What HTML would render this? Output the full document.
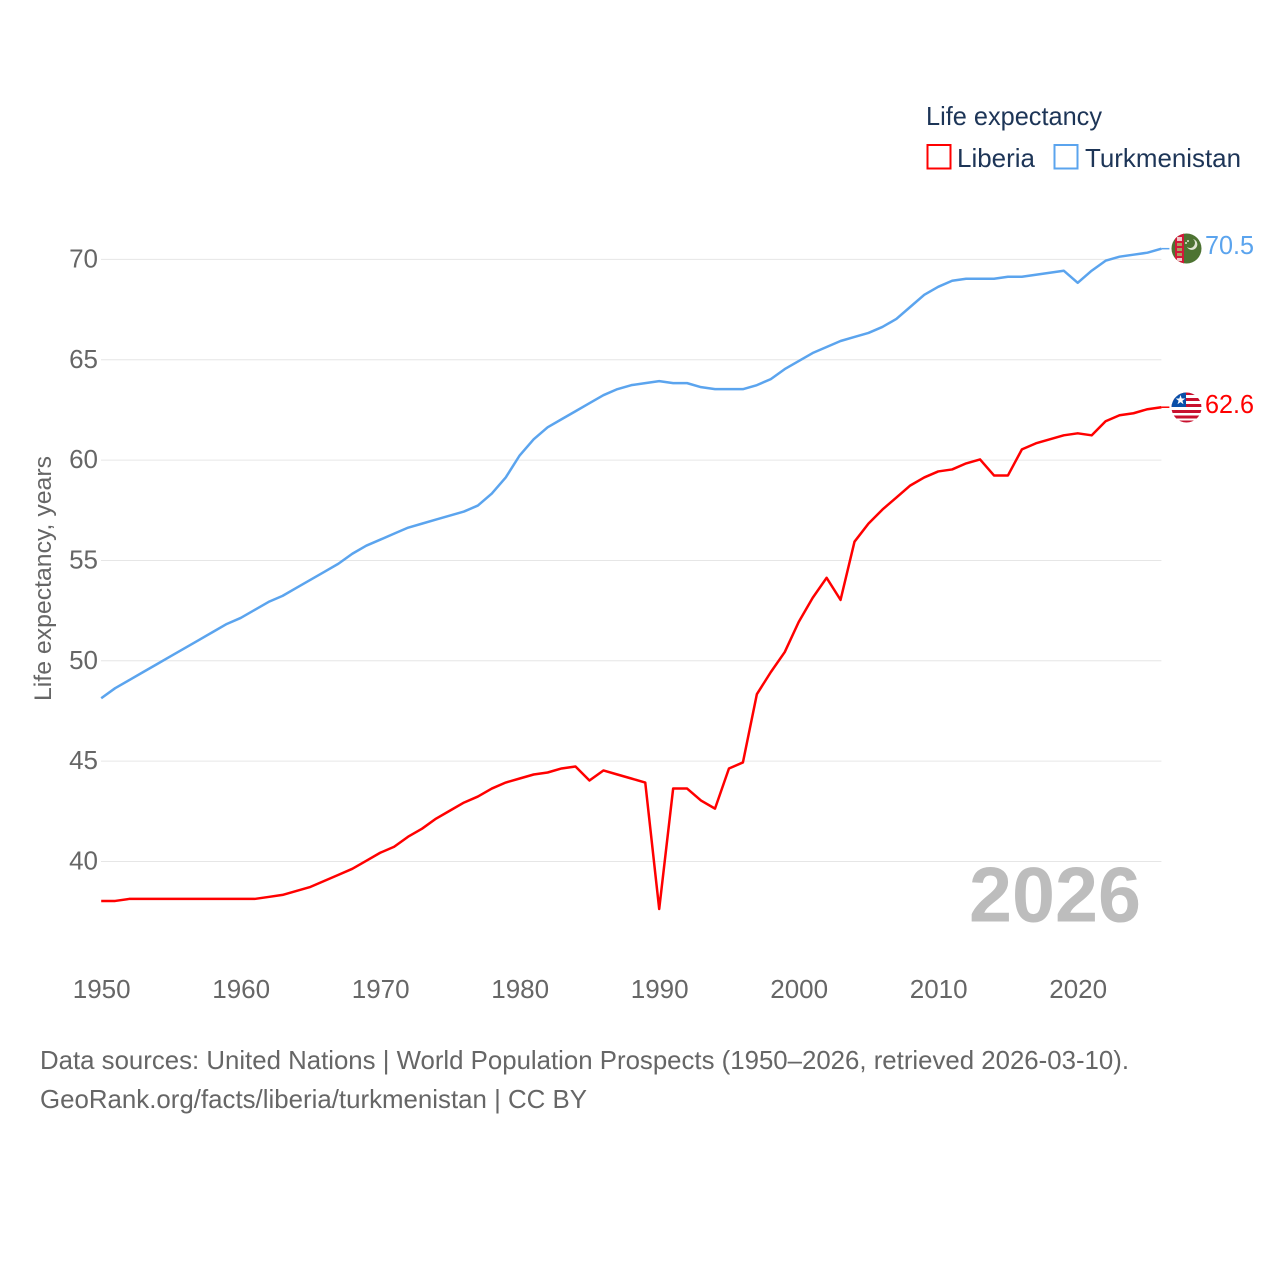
<!DOCTYPE html>
<html lang="en">
<head>
<meta charset="utf-8">
<title>Life expectancy: Liberia and Turkmenistan</title>
<style>
html,body{margin:0;padding:0;background:#fff;width:1280px;height:1280px;overflow:hidden}
svg{display:block;font-family:"Liberation Sans",sans-serif}
</style>
</head>
<body>
<svg id="chart" xmlns="http://www.w3.org/2000/svg" width="1280" height="1280" viewBox="0 0 1280 1280">
  <defs>
    <clipPath id="tm-clip"><circle cx="1186.500" cy="248.500" r="15"/></clipPath>
    <clipPath id="lr-clip"><circle cx="1186.500" cy="407.500" r="15"/></clipPath>
  </defs>
  <g id="grid"></g>
  <g id="yticks"></g>
  <g id="xticks"></g>
  <text transform="translate(51 701) rotate(-90)" font-size="24" fill="#666" textLength="245" lengthAdjust="spacingAndGlyphs">Life expectancy, years</text>
  <text x="969" y="921.500" font-size="78" font-weight="700" fill="#bdbdbd" textLength="172" lengthAdjust="spacingAndGlyphs">2026</text>
  <g id="lines"></g>

  <g clip-path="url(#tm-clip)">
    <rect x="1171" y="233" width="31" height="31" fill="#4d7332"/>
    <rect x="1175" y="233" width="9" height="31" fill="#d2183a"/>
    <rect x="1177" y="237" width="5" height="4" fill="#f0c8c8"/>
    <rect x="1177" y="243" width="5" height="3" fill="#a8a060"/>
    <rect x="1177" y="248" width="5" height="3" fill="#a8a060"/>
    <rect x="1177" y="253" width="5" height="3" fill="#a8a060"/>
    <rect x="1177" y="258" width="5" height="3" fill="#f0c8c8"/>
    <path d="M1193 239a5.500 5.500 0 1 1-6 8a4.500 4.500 0 0 0 6-8z" fill="#dfe6d2"/>
    <circle cx="1188" cy="241" r="1" fill="#dfe6d2"/>
    <circle cx="1186" cy="243" r="1" fill="#dfe6d2"/>
  </g>
  <g clip-path="url(#lr-clip)">
    <rect x="1171" y="392" width="31" height="31" fill="#fff"/>
    <rect x="1171" y="392" width="31" height="3" fill="#c8102e"/>
    <rect x="1171" y="398" width="31" height="3" fill="#c8102e"/>
    <rect x="1171" y="404" width="31" height="3" fill="#c8102e"/>
    <rect x="1171" y="410" width="31" height="3" fill="#c8102e"/>
    <rect x="1171" y="415.500" width="31" height="3" fill="#c8102e"/>
    <rect x="1171" y="420.500" width="31" height="3" fill="#c8102e"/>
    <rect x="1171" y="392" width="15" height="15" fill="#0a4fa8"/>
    <path d="M1180.500 395l1.200 3.500h3.600l-2.900 2.200 1.100 3.500-3-2.100-3 2.100 1.100-3.500-2.900-2.200h3.600z" fill="#fff"/>
  </g>
  <text x="1205" y="254" font-size="26" fill="#5ba4ee" textLength="49" lengthAdjust="spacingAndGlyphs">70.5</text>
  <text x="1205" y="413" font-size="26" fill="#ff0000" textLength="49" lengthAdjust="spacingAndGlyphs">62.6</text>

  <g>
    <text x="926" y="125" font-size="26" fill="#1d3557" textLength="176" lengthAdjust="spacingAndGlyphs">Life expectancy</text>
    <g>
      <rect x="927.500" y="145" width="23" height="23.500" fill="none" stroke="#ff0000" stroke-width="2"/>
      <text x="957" y="167" font-size="26" fill="#1d3557" textLength="78" lengthAdjust="spacingAndGlyphs">Liberia</text>
    </g>
    <g>
      <rect x="1054.500" y="145" width="23" height="23.500" fill="none" stroke="#5ba4ee" stroke-width="2"/>
      <text x="1085" y="167" font-size="26" fill="#1d3557" textLength="156" lengthAdjust="spacingAndGlyphs">Turkmenistan</text>
    </g>
  </g>

  <text x="40" y="1069" font-size="26" fill="#666" textLength="1089" lengthAdjust="spacingAndGlyphs">Data sources: United Nations | World Population Prospects (1950–2026, retrieved 2026-03-10).</text>
  <text x="40" y="1108" font-size="26" fill="#666" textLength="547" lengthAdjust="spacingAndGlyphs">GeoRank.org/facts/liberia/turkmenistan | CC BY</text>
</svg>
<script>
const years = [1950,1951,1952,1953,1954,1955,1956,1957,1958,1959,1960,1961,1962,1963,1964,1965,1966,1967,1968,1969,1970,1971,1972,1973,1974,1975,1976,1977,1978,1979,1980,1981,1982,1983,1984,1985,1986,1987,1988,1989,1990,1991,1992,1993,1994,1995,1996,1997,1998,1999,2000,2001,2002,2003,2004,2005,2006,2007,2008,2009,2010,2011,2012,2013,2014,2015,2016,2017,2018,2019,2020,2021,2022,2023,2024,2025,2026];
const liberia = [38.0,38.0,38.1,38.1,38.1,38.1,38.1,38.1,38.1,38.1,38.1,38.1,38.2,38.3,38.5,38.7,39.0,39.3,39.6,40.0,40.4,40.7,41.2,41.6,42.1,42.5,42.9,43.2,43.6,43.9,44.1,44.3,44.4,44.6,44.7,44.0,44.5,44.3,44.1,43.9,37.6,43.6,43.6,43.0,42.6,44.6,44.9,48.3,49.4,50.4,51.9,53.1,54.1,53.0,55.9,56.8,57.5,58.1,58.7,59.1,59.4,59.5,59.8,60.0,59.2,59.2,60.5,60.8,61.0,61.2,61.3,61.2,61.9,62.2,62.3,62.5,62.6];
const turkmenistan = [48.1,48.6,49.0,49.4,49.8,50.2,50.6,51.0,51.4,51.8,52.1,52.5,52.9,53.2,53.6,54.0,54.4,54.8,55.3,55.7,56.0,56.3,56.6,56.8,57.0,57.2,57.4,57.7,58.3,59.1,60.2,61.0,61.6,62.0,62.4,62.8,63.2,63.5,63.7,63.8,63.9,63.8,63.8,63.6,63.5,63.5,63.5,63.7,64.0,64.5,64.9,65.3,65.6,65.9,66.1,66.3,66.6,67.0,67.6,68.2,68.6,68.9,69.0,69.0,69.0,69.1,69.1,69.2,69.3,69.4,68.8,69.4,69.9,70.1,70.2,70.3,70.5];
const yTickValues = [40,45,50,55,60,65,70];
const xTickValues = [1950,1960,1970,1980,1990,2000,2010,2020];

const NS = 'http://www.w3.org/2000/svg';
const xScale = function (year) { return 101.2 + (year - 1950) * 13.95; };
const yScale = function (value) { return 861.5 - (value - 40) * 20.07; };
const lineY = function (value) { return yScale(value) - 0.7; };

function make(tag, parent) {
  const el = document.createElementNS(NS, tag);
  parent.appendChild(el);
  return el;
}

const gridGroup = document.getElementById('grid');
const yTickGroup = document.getElementById('yticks');
const xTickGroup = document.getElementById('xticks');
const lineGroup = document.getElementById('lines');
const lastYear = years[years.length - 1];

yTickValues.forEach(function (value) {
  const line = make('line', gridGroup);
  
  
  line.setAttribute('x1', 101);
  line.setAttribute('x2', xScale(lastYear));
  line.setAttribute('y1', yScale(value));
  line.setAttribute('y2', yScale(value));
  line.setAttribute('stroke', '#e6e6e6');
  line.setAttribute('stroke-width', '1');

  const label = make('text', yTickGroup);
  
  
  label.setAttribute('x', 98);
  label.setAttribute('y', yScale(value) + 8);
  label.setAttribute('text-anchor', 'end');
  label.setAttribute('font-size', '26');
  label.setAttribute('fill', '#666');
  label.textContent = String(value);
});

xTickValues.forEach(function (year) {
  const label = make('text', xTickGroup);
  
  
  label.setAttribute('x', xScale(year) + 0.5);
  label.setAttribute('y', 998);
  label.setAttribute('text-anchor', 'middle');
  label.setAttribute('font-size', '26');
  label.setAttribute('fill', '#666');
  label.textContent = String(year);
});

function drawSeries(name, values, color) {
  const pts = values.map(function (v, i) { return xScale(years[i]).toFixed(2) + ',' + lineY(v).toFixed(2); });
  const last = values[values.length - 1];
  const path = make('polyline', lineGroup);
  
  
  path.setAttribute('points', pts.join(' '));
  path.setAttribute('fill', 'none');
  path.setAttribute('stroke', color);
  path.setAttribute('stroke-width', '2.5');
  path.setAttribute('stroke-linejoin', 'round');

  const connector = make('line', lineGroup);
  
  
  connector.setAttribute('x1', xScale(lastYear));
  connector.setAttribute('x2', xScale(lastYear) + 8);
  connector.setAttribute('y1', lineY(last));
  connector.setAttribute('y2', lineY(last));
  connector.setAttribute('stroke', color);
  connector.setAttribute('stroke-width', '1.5');
}

drawSeries('liberia', liberia, '#ff0000');
drawSeries('turkmenistan', turkmenistan, '#5ba4ee');
</script>
</body>
</html>
